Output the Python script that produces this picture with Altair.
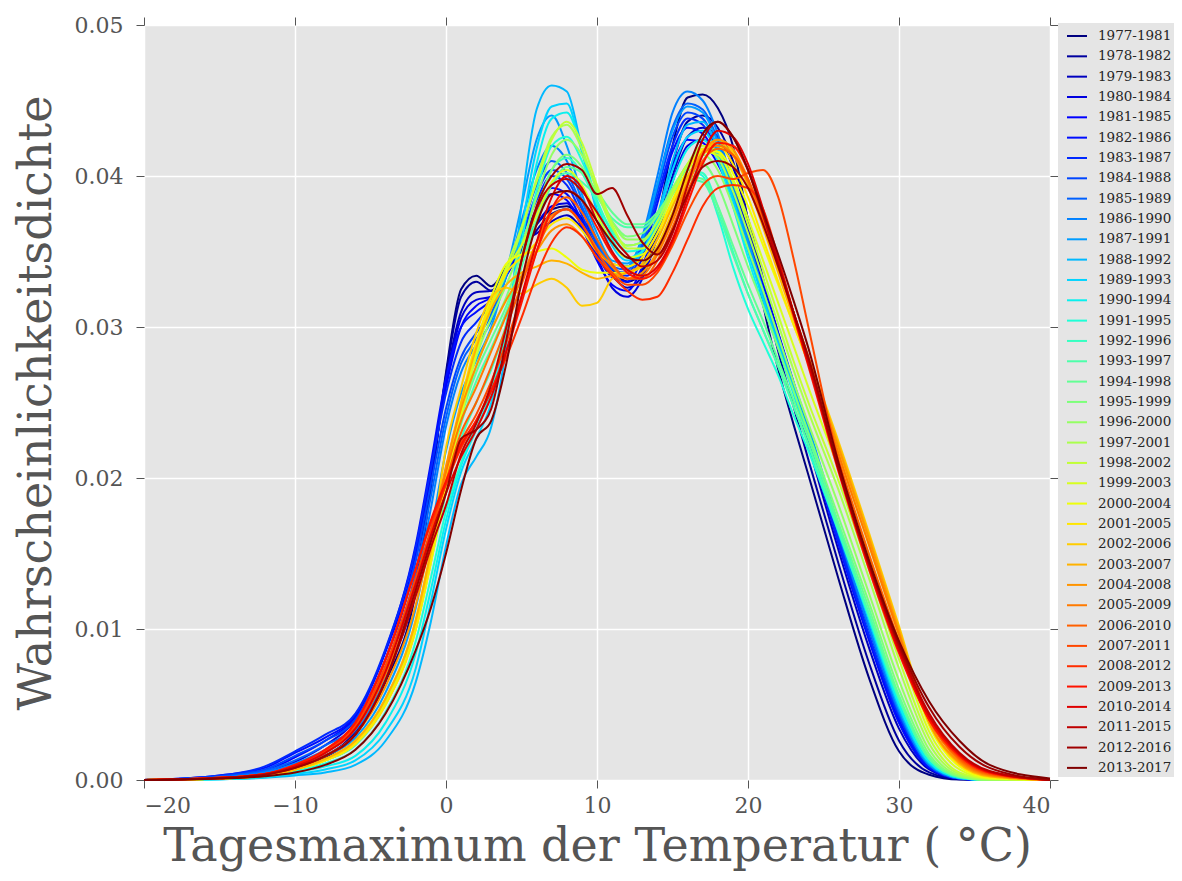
import altair as alt
import pandas as pd

temps = [-20, -15, -12, -10, -8, -6, -4, -2, -1, 0, 1, 2, 3, 4, 5, 6, 7, 8, 9, 10, 11, 12,
         13, 14, 15, 16, 17, 18, 19, 20, 21, 22, 23, 24, 26, 28, 30, 32, 34, 36, 40]

periods = ["1977-1981", "1978-1982", "1979-1983", "1980-1984", "1981-1985", "1982-1986",
           "1983-1987", "1984-1988", "1985-1989", "1986-1990", "1987-1991", "1988-1992",
           "1989-1993", "1990-1994", "1991-1995", "1992-1996", "1993-1997", "1994-1998",
           "1995-1999", "1996-2000", "1997-2001", "1998-2002", "1999-2003", "2000-2004",
           "2001-2005", "2002-2006", "2003-2007", "2004-2008", "2005-2009", "2006-2010",
           "2007-2011", "2008-2012", "2009-2013", "2010-2014", "2011-2015", "2012-2016",
           "2013-2017"]

# density values in per mille (1/1000), one list per 5-year window
d_1977 = [0, 0.1, 0.3, 0.7, 1.5, 3.0, 6.5, 12.5, 19.4, 27.0, 32.5, 33.4, 32.7, 34.0, 35.5, 36.8, 37.8, 38.0, 37.2, 35.6, 34.0, 33.0, 33.6, 37.0, 42.0, 45.2, 45.4, 44.5, 42.0, 37.0, 31.5, 27.2, 23.6, 20.2, 13.3, 6.8, 1.9, 0.35, 0.03, 0, 0]
d_1978 = [0, 0.1, 0.3, 0.8, 1.6, 3.2, 7.0, 13.0, 19.5, 26.8, 32.0, 33.0, 32.4, 33.6, 35.0, 36.4, 37.5, 37.8, 37.0, 35.2, 33.8, 33.0, 33.8, 36.6, 40.8, 43.6, 44.0, 43.2, 41.0, 37.0, 32.5, 28.4, 24.8, 21.2, 14.3, 7.8, 2.6, 0.5, 0.05, 0, 0]
d_1979 = [0, 0.1, 0.4, 0.9, 1.8, 3.5, 7.5, 13.6, 19.8, 26.5, 31.0, 32.3, 32.4, 33.8, 35.6, 36.2, 37.0, 37.4, 36.5, 34.8, 33.4, 32.6, 33.4, 36.2, 40.0, 42.6, 43.2, 42.6, 40.6, 37.2, 33.2, 29.4, 25.8, 22.2, 15.2, 8.8, 3.4, 0.7, 0.08, 0, 0]
d_1980 = [0, 0.15, 0.5, 1.2, 2.3, 4.0, 8.0, 14.6, 20.2, 26.2, 30.6, 31.8, 32.0, 33.4, 35.2, 36.8, 38.0, 38.2, 36.8, 34.6, 32.6, 32.0, 33.2, 36.0, 39.6, 42.0, 42.4, 41.4, 39.4, 36.4, 33.0, 29.6, 26.2, 22.8, 15.8, 9.4, 3.8, 0.8, 0.1, 0, 0]
d_1981 = [0, 0.2, 0.6, 1.5, 2.6, 4.2, 8.5, 15.0, 20.6, 26.0, 30.0, 31.4, 32.0, 33.6, 35.6, 37.6, 38.8, 38.4, 36.6, 34.4, 32.8, 32.4, 34.0, 37.2, 40.6, 42.4, 42.2, 40.8, 38.6, 35.8, 32.8, 29.6, 26.4, 23.0, 16.0, 9.6, 4.0, 0.9, 0.1, 0, 0]
d_1982 = [0, 0.3, 0.8, 1.8, 2.8, 4.3, 8.6, 15.6, 21.0, 26.6, 30.0, 31.0, 31.8, 33.5, 35.6, 37.8, 39.2, 38.8, 37.0, 34.8, 33.3, 33.0, 34.6, 38.2, 41.6, 43.2, 42.8, 41.2, 38.8, 35.8, 32.6, 29.4, 26.0, 22.6, 15.6, 9.3, 3.8, 0.8, 0.1, 0, 0]
d_1983 = [0, 0.3, 0.9, 1.9, 3.0, 4.4, 8.7, 15.4, 20.6, 25.6, 29.0, 30.3, 31.6, 33.8, 36.0, 38.4, 40.0, 39.4, 37.4, 35.0, 33.6, 33.4, 35.0, 38.6, 42.0, 43.8, 43.4, 41.6, 39.0, 35.8, 32.4, 29.2, 25.8, 22.6, 15.8, 9.6, 4.2, 0.9, 0.1, 0, 0]
d_1984 = [0, 0.25, 0.7, 1.6, 2.6, 4.0, 8.0, 14.6, 19.6, 24.6, 28.0, 29.6, 31.0, 33.4, 36.0, 38.8, 40.4, 39.8, 37.8, 35.4, 33.8, 33.6, 35.4, 39.0, 42.6, 44.2, 43.8, 41.8, 38.8, 35.4, 32.2, 29.0, 25.8, 22.8, 16.2, 10.0, 4.4, 1.0, 0.1, 0, 0]
d_1985 = [0, 0.2, 0.6, 1.3, 2.3, 3.6, 7.4, 13.8, 18.8, 24.0, 27.6, 29.2, 30.8, 33.4, 36.4, 39.4, 41.0, 40.2, 38.0, 35.6, 34.0, 33.8, 35.6, 39.4, 43.2, 44.8, 44.4, 42.4, 39.2, 35.6, 32.4, 29.2, 26.0, 23.0, 16.4, 10.2, 4.5, 1.0, 0.12, 0, 0]
d_1986 = [0, 0.15, 0.5, 1.1, 2.0, 3.3, 6.8, 13.0, 18.0, 23.4, 27.0, 28.8, 30.4, 33.4, 37.0, 40.4, 42.0, 41.0, 38.4, 35.8, 34.2, 34.0, 36.0, 40.0, 44.2, 45.6, 45.0, 42.8, 39.4, 35.8, 32.4, 29.2, 26.0, 23.0, 16.4, 10.2, 4.6, 1.0, 0.12, 0, 0]
d_1987 = [0, 0.1, 0.4, 0.9, 1.6, 2.8, 5.8, 11.4, 16.4, 21.8, 25.6, 27.8, 30.0, 33.6, 38.0, 42.4, 44.0, 42.0, 38.8, 36.2, 34.4, 34.2, 35.8, 39.4, 43.0, 44.6, 44.2, 42.2, 39.0, 35.6, 32.4, 29.4, 26.4, 23.4, 16.8, 10.6, 4.8, 1.1, 0.14, 0, 0]
d_1988 = [0, 0.05, 0.15, 0.3, 0.5, 1.0, 2.6, 6.5, 10.5, 15.5, 19.6, 21.4, 23.4, 28.8, 38.0, 44.4, 46.0, 45.6, 41.8, 37.6, 35.0, 34.0, 35.0, 37.4, 41.0, 43.4, 43.6, 41.8, 38.6, 35.2, 32.0, 29.0, 26.0, 23.0, 16.8, 10.6, 4.8, 1.1, 0.14, 0, 0]
d_1989 = [0, 0.05, 0.2, 0.4, 0.7, 1.3, 3.2, 7.4, 11.8, 16.6, 20.4, 22.6, 25.0, 30.0, 36.4, 41.8, 44.6, 44.8, 41.6, 37.8, 35.4, 34.4, 35.0, 37.2, 40.4, 42.6, 43.0, 41.4, 38.4, 35.0, 31.8, 28.8, 25.8, 22.8, 16.8, 10.8, 5.0, 1.2, 0.15, 0, 0]
d_1990 = [0, 0.05, 0.2, 0.5, 0.9, 1.6, 3.8, 8.4, 12.6, 17.2, 20.8, 23.2, 25.8, 30.2, 35.6, 40.8, 43.8, 44.2, 41.8, 38.2, 35.8, 34.6, 35.0, 36.8, 39.6, 41.8, 42.4, 41.0, 38.0, 34.6, 31.4, 28.6, 25.6, 22.8, 16.8, 10.8, 5.0, 1.2, 0.15, 0, 0]
d_1991 = [0, 0.08, 0.25, 0.6, 1.1, 2.0, 4.5, 9.2, 13.4, 17.8, 21.0, 23.6, 26.0, 29.8, 34.6, 39.0, 42.0, 42.6, 41.0, 38.4, 36.2, 35.0, 35.2, 36.6, 38.8, 40.4, 40.0, 37.4, 34.0, 31.2, 29.0, 26.8, 24.2, 21.8, 16.4, 10.8, 5.3, 1.4, 0.2, 0, 0]
d_1992 = [0, 0.1, 0.3, 0.7, 1.3, 2.3, 5.0, 10.0, 14.4, 19.0, 22.6, 25.0, 27.2, 30.2, 34.0, 37.6, 40.4, 41.2, 40.2, 38.2, 36.4, 35.4, 35.6, 37.0, 39.0, 40.4, 40.2, 38.0, 35.0, 32.2, 29.8, 27.4, 24.8, 22.2, 16.6, 11.0, 5.4, 1.4, 0.2, 0, 0]
d_1993 = [0, 0.1, 0.3, 0.7, 1.3, 2.4, 5.2, 10.4, 14.8, 19.6, 23.6, 26.4, 28.6, 31.0, 34.0, 37.0, 39.4, 40.2, 39.6, 38.6, 37.2, 36.6, 36.6, 37.4, 38.8, 39.8, 39.6, 37.6, 34.8, 32.2, 29.8, 27.4, 24.8, 22.2, 16.6, 11.0, 5.4, 1.4, 0.2, 0, 0]
d_1994 = [0, 0.1, 0.3, 0.7, 1.3, 2.4, 5.2, 10.4, 14.8, 19.8, 24.0, 27.0, 29.2, 31.4, 34.2, 37.0, 39.4, 40.6, 40.2, 39.0, 37.6, 36.8, 36.8, 37.6, 39.0, 40.0, 39.8, 38.0, 35.4, 32.8, 30.4, 27.8, 25.2, 22.6, 17.0, 11.4, 5.6, 1.5, 0.22, 0, 0]
d_1995 = [0, 0.1, 0.3, 0.7, 1.3, 2.4, 5.2, 10.4, 14.8, 19.6, 24.0, 27.4, 29.8, 32.0, 34.8, 37.8, 40.4, 41.4, 40.6, 38.8, 37.0, 36.0, 36.2, 37.4, 39.2, 40.6, 40.8, 39.4, 36.8, 34.0, 31.4, 28.6, 25.8, 23.0, 17.4, 11.8, 6.0, 1.7, 0.25, 0, 0]
d_1996 = [0, 0.1, 0.3, 0.7, 1.3, 2.4, 5.2, 10.4, 14.8, 19.6, 24.4, 28.0, 30.6, 32.8, 35.4, 38.6, 41.4, 42.4, 41.4, 39.2, 37.0, 35.8, 35.8, 37.0, 39.0, 40.8, 41.4, 40.4, 38.0, 35.2, 32.4, 29.4, 26.4, 23.6, 18.2, 12.4, 6.6, 2.0, 0.3, 0, 0]
d_1997 = [0, 0.1, 0.3, 0.7, 1.3, 2.4, 5.2, 10.4, 14.8, 19.8, 24.6, 28.4, 31.2, 33.6, 36.4, 39.8, 42.6, 43.4, 41.8, 39.0, 36.6, 35.4, 35.6, 37.0, 39.0, 40.8, 41.8, 41.2, 39.0, 36.2, 33.2, 30.2, 27.2, 24.4, 19.2, 13.4, 7.4, 2.4, 0.4, 0.05, 0]
d_1998 = [0, 0.1, 0.3, 0.7, 1.3, 2.4, 5.2, 10.2, 14.6, 19.6, 24.4, 28.6, 31.6, 34.0, 36.6, 39.6, 42.4, 43.6, 42.2, 39.4, 36.8, 35.2, 35.2, 36.6, 38.8, 40.8, 42.0, 41.6, 39.6, 36.8, 33.8, 30.8, 27.8, 25.0, 19.8, 14.0, 8.0, 2.8, 0.5, 0.08, 0]
d_1999 = [0, 0.1, 0.3, 0.7, 1.3, 2.4, 5.0, 10.0, 14.4, 19.4, 24.0, 28.2, 31.4, 33.8, 35.4, 37.4, 39.6, 40.4, 39.4, 37.4, 35.6, 34.6, 34.8, 36.2, 38.4, 40.4, 41.6, 41.4, 39.8, 37.2, 34.4, 31.6, 28.8, 26.0, 20.6, 14.8, 8.8, 3.2, 0.7, 0.1, 0]
d_2000 = [0, 0.1, 0.3, 0.7, 1.3, 2.4, 5.0, 10.0, 14.4, 19.6, 24.4, 28.8, 32.0, 34.2, 34.8, 35.0, 35.2, 34.6, 33.8, 33.6, 33.6, 33.6, 34.2, 35.8, 38.2, 40.4, 41.6, 41.6, 40.2, 38.0, 35.4, 32.8, 30.2, 27.6, 21.6, 15.6, 9.6, 3.6, 0.9, 0.15, 0]
d_2001 = [0, 0.1, 0.3, 0.7, 1.3, 2.4, 5.0, 10.0, 14.6, 20.0, 25.0, 29.0, 31.6, 33.6, 34.6, 35.6, 36.8, 37.2, 36.4, 35.0, 34.2, 34.0, 34.6, 36.2, 38.4, 40.4, 41.8, 42.0, 40.8, 38.6, 35.8, 33.0, 30.2, 27.6, 22.0, 16.0, 10.0, 3.8, 1.0, 0.2, 0]
d_2002 = [0, 0.1, 0.3, 0.7, 1.4, 2.6, 5.4, 10.6, 15.2, 22.0, 26.0, 29.6, 32.0, 32.6, 32.2, 32.8, 33.2, 32.6, 31.4, 31.6, 33.2, 33.6, 34.0, 35.4, 37.6, 39.8, 41.6, 42.4, 41.6, 39.6, 36.8, 33.8, 30.8, 28.0, 22.4, 16.4, 10.2, 3.8, 1.1, 0.25, 0]
d_2003 = [0, 0.1, 0.3, 0.7, 1.4, 2.6, 5.4, 10.6, 15.2, 20.6, 25.0, 28.6, 31.2, 32.8, 33.6, 34.0, 34.4, 34.2, 33.6, 33.2, 33.4, 33.6, 34.2, 35.8, 38.0, 40.0, 41.6, 42.2, 41.4, 39.4, 36.6, 33.6, 30.6, 27.8, 22.2, 16.2, 10.0, 3.8, 1.1, 0.25, 0]
d_2004 = [0, 0.12, 0.35, 0.8, 1.6, 3.0, 6.2, 11.6, 16.0, 20.8, 24.6, 27.4, 29.8, 31.8, 33.4, 35.0, 36.4, 36.8, 36.0, 34.6, 33.6, 33.2, 33.6, 35.0, 37.2, 39.6, 41.6, 42.4, 41.8, 39.8, 37.0, 34.0, 31.0, 28.0, 22.0, 16.0, 9.8, 3.8, 1.2, 0.3, 0]
d_2005 = [0, 0.15, 0.4, 0.9, 1.8, 3.4, 7.0, 12.6, 16.4, 20.4, 23.8, 26.0, 28.4, 30.8, 33.2, 35.6, 37.4, 37.8, 36.8, 35.2, 34.0, 33.2, 33.4, 34.8, 37.0, 39.4, 41.4, 42.0, 41.4, 39.6, 37.0, 34.0, 31.0, 28.0, 21.6, 15.6, 9.6, 4.0, 1.3, 0.35, 0]
d_2006 = [0, 0.15, 0.4, 0.9, 1.9, 3.6, 7.4, 13.0, 16.4, 19.8, 23.0, 25.0, 27.4, 30.0, 32.8, 35.6, 37.8, 38.6, 37.6, 35.8, 34.2, 33.2, 33.2, 34.4, 36.6, 39.0, 41.0, 41.8, 41.4, 39.8, 37.2, 34.2, 31.0, 27.8, 21.2, 15.0, 9.2, 4.0, 1.4, 0.4, 0]
d_2007 = [0, 0.15, 0.4, 0.9, 1.9, 3.6, 7.6, 13.4, 16.6, 19.6, 22.4, 24.2, 26.4, 29.0, 32.0, 35.0, 37.2, 37.8, 36.8, 35.0, 33.6, 32.8, 32.8, 33.6, 35.4, 37.6, 39.4, 40.0, 39.8, 40.2, 40.4, 38.6, 34.6, 30.0, 21.0, 14.4, 8.8, 4.0, 1.5, 0.45, 0]
d_2008 = [0, 0.15, 0.4, 1.0, 2.0, 3.8, 8.0, 14.0, 17.0, 19.6, 22.0, 23.8, 25.8, 28.0, 30.6, 33.4, 35.6, 36.6, 36.0, 34.6, 33.4, 32.4, 31.8, 32.0, 33.6, 35.8, 38.0, 39.2, 39.4, 39.2, 37.8, 34.6, 31.0, 27.6, 20.6, 14.2, 8.6, 4.0, 1.6, 0.5, 0]
d_2009 = [0, 0.15, 0.4, 1.0, 2.0, 3.8, 8.0, 14.0, 17.2, 19.8, 22.2, 23.8, 25.8, 28.4, 31.6, 35.0, 37.8, 39.0, 38.4, 36.6, 34.8, 33.6, 33.2, 33.8, 35.6, 38.2, 40.8, 42.2, 42.0, 40.4, 37.6, 34.2, 30.8, 27.4, 20.4, 14.0, 8.4, 4.0, 1.6, 0.5, 0]
d_2010 = [0, 0.15, 0.4, 0.9, 1.8, 3.4, 7.2, 13.0, 16.2, 19.0, 21.4, 23.2, 25.4, 28.4, 32.0, 35.6, 38.6, 40.0, 39.2, 37.0, 35.0, 33.8, 33.4, 34.0, 35.8, 38.6, 41.4, 43.0, 42.6, 40.8, 37.8, 34.4, 31.0, 27.6, 20.6, 14.2, 8.6, 4.2, 1.7, 0.55, 0]
d_2011 = [0, 0.12, 0.35, 0.8, 1.6, 3.0, 6.6, 12.2, 15.4, 18.2, 21.6, 23.6, 26.2, 30.0, 34.4, 37.8, 39.4, 39.8, 39.0, 37.6, 36.0, 34.8, 34.0, 34.4, 36.2, 39.4, 42.4, 43.6, 42.6, 40.4, 37.4, 34.2, 31.0, 27.8, 20.6, 14.4, 8.8, 4.4, 1.8, 0.6, 0]
d_2012 = [0, 0.12, 0.35, 0.8, 1.6, 3.0, 6.6, 12.6, 15.8, 19.0, 22.6, 23.2, 24.6, 29.2, 34.4, 38.0, 40.0, 40.8, 40.4, 38.8, 39.2, 37.4, 35.6, 34.8, 36.4, 38.8, 40.6, 41.0, 40.6, 39.2, 36.8, 34.0, 31.0, 28.0, 20.6, 14.4, 9.0, 4.8, 2.2, 0.8, 0]
d_2013 = [0, 0.1, 0.25, 0.5, 1.0, 2.0, 4.4, 8.6, 11.4, 15.0, 19.2, 22.6, 23.8, 27.6, 33.0, 36.8, 38.8, 39.0, 38.4, 37.0, 35.6, 34.6, 34.4, 35.2, 37.4, 40.4, 42.8, 43.6, 42.6, 40.4, 37.6, 34.8, 31.8, 28.6, 21.0, 14.6, 9.2, 5.2, 2.6, 1.0, 0.1]

series = [d_1977, d_1978, d_1979, d_1980, d_1981, d_1982, d_1983, d_1984, d_1985, d_1986,
          d_1987, d_1988, d_1989, d_1990, d_1991, d_1992, d_1993, d_1994, d_1995, d_1996,
          d_1997, d_1998, d_1999, d_2000, d_2001, d_2002, d_2003, d_2004, d_2005, d_2006,
          d_2007, d_2008, d_2009, d_2010, d_2011, d_2012, d_2013]

rows = []
for label, vals in zip(periods, series):
    for t, v in zip(temps, vals):
        rows.append({"period": label, "temp": t, "density": v / 1000.0})
df = pd.DataFrame(rows)


# matplotlib "jet" colormap (256-entry LUT) sampled evenly for the 37 windows
def _seg(pts, t):
    for (x0, y0), (x1, y1) in zip(pts, pts[1:]):
        if x0 <= t <= x1:
            return y0 if x1 == x0 else y0 + (y1 - y0) * (t - x0) / (x1 - x0)
    return pts[-1][1]


def jet(t):
    t = min(int(t * 256), 255) / 255.0
    r = _seg([(0, 0), (0.35, 0), (0.66, 1), (0.89, 1), (1, 0.5)], t)
    g = _seg([(0, 0), (0.125, 0), (0.375, 1), (0.64, 1), (0.91, 0), (1, 0)], t)
    b = _seg([(0, 0.5), (0.11, 1), (0.34, 1), (0.65, 0), (1, 0)], t)
    return "#%02x%02x%02x" % tuple(int(round(c * 255)) for c in (r, g, b))


n = len(periods)
colors = [jet(i / (n - 1)) for i in range(n)]

xticks = [-20, -10, 0, 10, 20, 30, 40]
yticks = [0, 0.01, 0.02, 0.03, 0.04, 0.05]
FONT = "DejaVu Serif"

xscale = alt.Scale(domain=[-20, 40], nice=False, zero=False)
yscale = alt.Scale(domain=[0, 0.05], nice=False)

lines = alt.Chart(df).mark_line(strokeWidth=2, interpolate="monotone").encode(
    x=alt.X("temp:Q", scale=xscale,
            axis=alt.Axis(values=xticks, title="Tagesmaximum der Temperatur ( °C)",
                          labelPadding=7, titlePadding=8)),
    y=alt.Y("density:Q", scale=yscale,
            axis=alt.Axis(values=yticks, format=".2f", title="Wahrscheinlichkeitsdichte",
                          labelPadding=13, titlePadding=14)),
    color=alt.Color("period:N", sort=periods,
                    scale=alt.Scale(domain=periods, range=colors),
                    legend=alt.Legend(orient="none", legendX=914, legendY=-2, title=None,
                                      fillColor="#E5E5E5", padding=2,
                                      symbolType="stroke", symbolSize=400,
                                      symbolStrokeWidth=2, symbolOffset=6,
                                      labelOffset=10, labelFont=FONT, labelFontSize=13.5,
                                      labelColor="#262626", rowPadding=2.33,
                                      symbolLimit=40, labelLimit=300)),
)

frame = alt.Chart(df).mark_line(opacity=0).encode(
    x=alt.X("temp:Q", scale=xscale,
            axis=alt.Axis(orient="top", values=xticks, labels=False, grid=False, title=None)),
    y=alt.Y("density:Q", scale=yscale,
            axis=alt.Axis(orient="right", values=yticks, labels=False, grid=False, title=None)),
    detail="period:N",
)

chart = alt.layer(lines, frame).resolve_axis(x="independent", y="independent").properties(
    width=906, height=755,
    padding={"left": 136, "top": 17, "right": 124, "bottom": 93},
    autosize=alt.AutoSizeParams(type="none"),
    background="white",
).configure_view(fill="#E5E5E5", strokeWidth=0).configure_axis(
    domain=False, gridColor="white", gridWidth=1.5,
    tickColor="#555555", tickSize=8, tickWidth=1,
    labelFont=FONT, labelFontSize=22, labelColor="#555555",
    titleFont=FONT, titleFontSize=46, titleColor="#555555", titleFontWeight="normal",
)

chart.save("out.html", embed_options={"renderer": "svg", "actions": False})
